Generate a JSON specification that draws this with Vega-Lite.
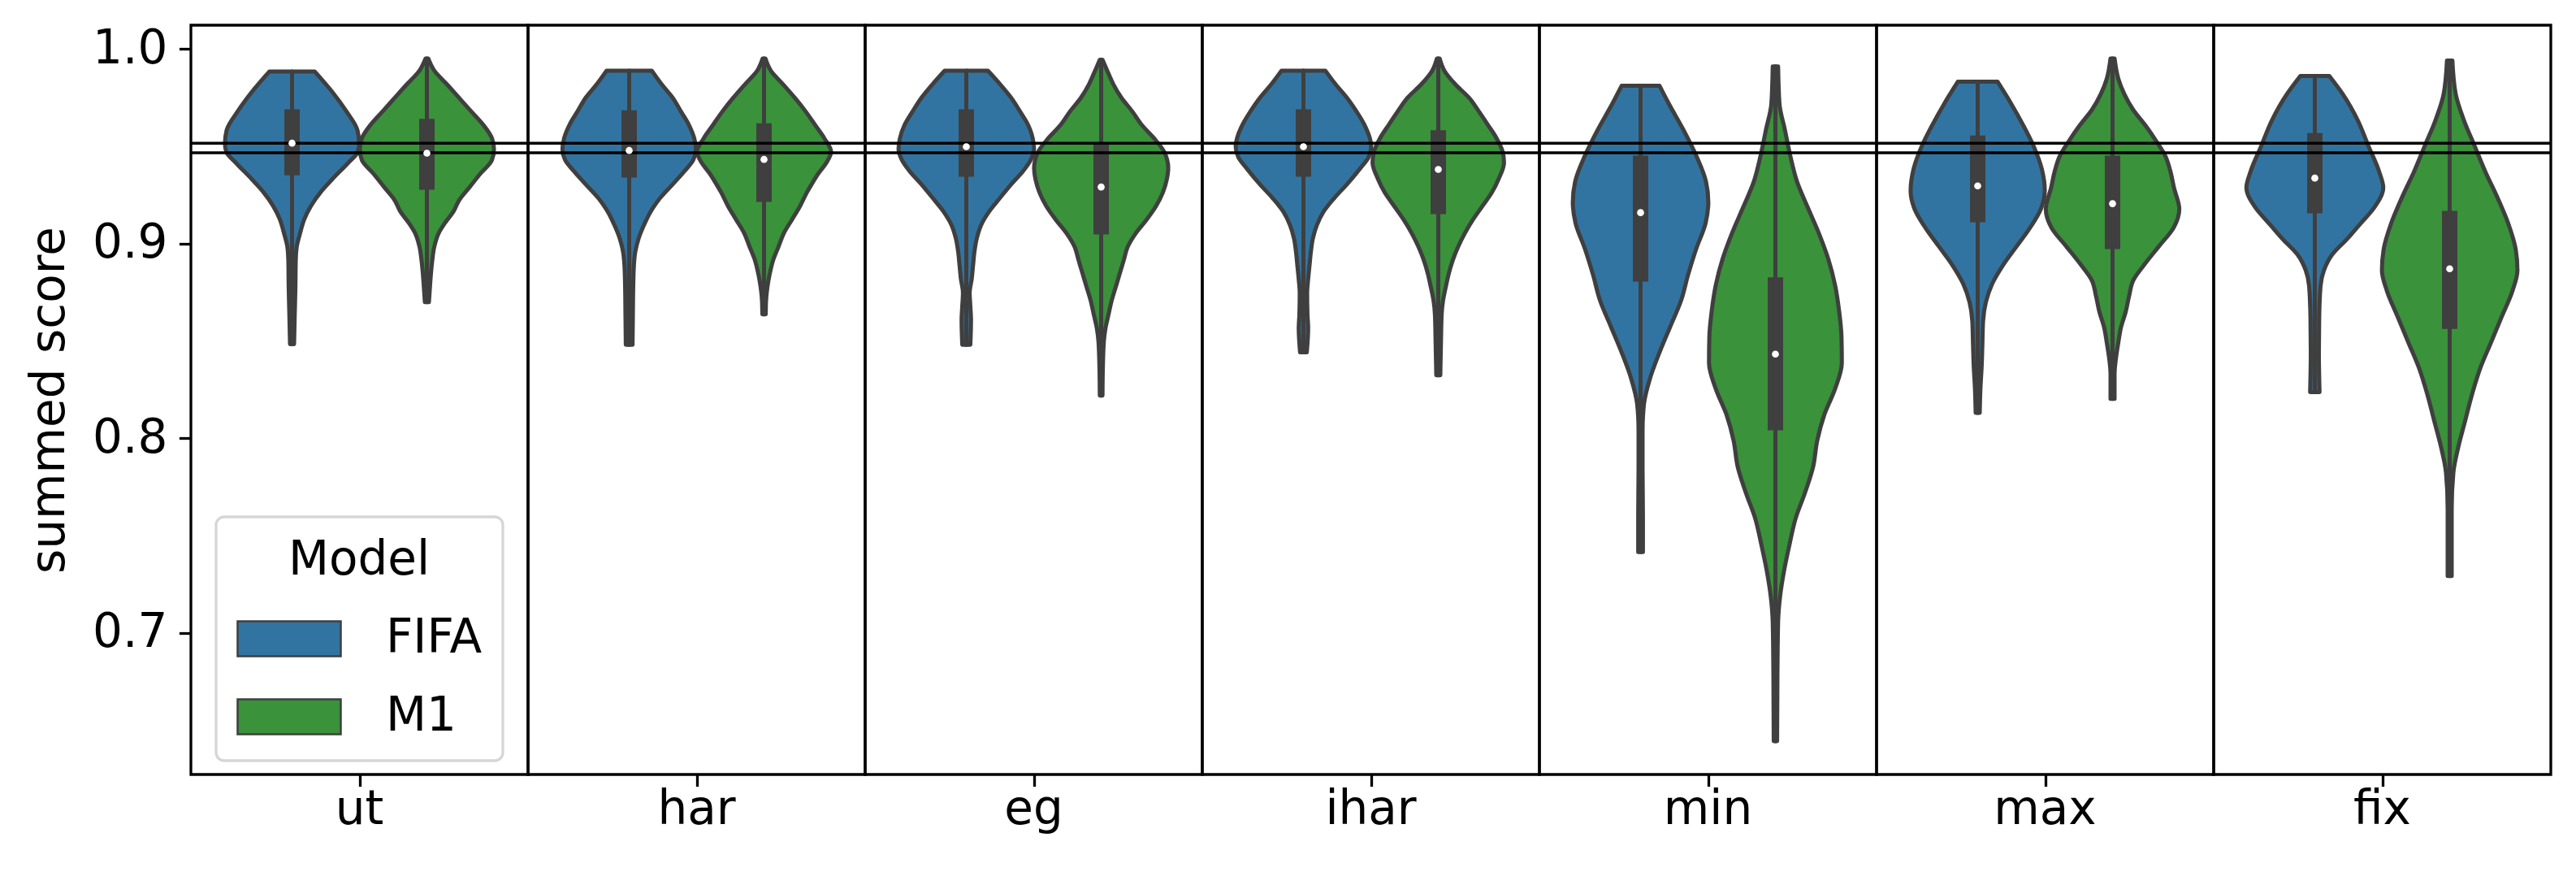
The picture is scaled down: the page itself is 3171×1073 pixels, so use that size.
{
  "$schema": "https://vega.github.io/schema/vega-lite/v6.json",
  "background": "white",
  "padding": {"left": 32, "top": 29, "right": 20, "bottom": 10},
  "bounds": "flush",
  "data": {"values": [
    {"metric":"ut","model":"FIFA","score":0.98845,"density":0.067},
    {"metric":"ut","model":"FIFA","score":0.97774,"density":0.120},
    {"metric":"ut","model":"FIFA","score":0.96800,"density":0.161},
    {"metric":"ut","model":"FIFA","score":0.95826,"density":0.194},
    {"metric":"ut","model":"FIFA","score":0.95131,"density":0.199},
    {"metric":"ut","model":"FIFA","score":0.94713,"density":0.195},
    {"metric":"ut","model":"FIFA","score":0.94157,"density":0.167},
    {"metric":"ut","model":"FIFA","score":0.93322,"density":0.120},
    {"metric":"ut","model":"FIFA","score":0.92627,"density":0.084},
    {"metric":"ut","model":"FIFA","score":0.91931,"density":0.056},
    {"metric":"ut","model":"FIFA","score":0.91235,"density":0.036},
    {"metric":"ut","model":"FIFA","score":0.90540,"density":0.024},
    {"metric":"ut","model":"FIFA","score":0.89844,"density":0.014},
    {"metric":"ut","model":"FIFA","score":0.89149,"density":0.011},
    {"metric":"ut","model":"FIFA","score":0.87757,"density":0.010},
    {"metric":"ut","model":"FIFA","score":0.86366,"density":0.008},
    {"metric":"ut","model":"FIFA","score":0.84836,"density":0.006},
    {"metric":"ut","model":"M1","score":0.99513,"density":0.004},
    {"metric":"ut","model":"M1","score":0.98887,"density":0.022},
    {"metric":"ut","model":"M1","score":0.98192,"density":0.059},
    {"metric":"ut","model":"M1","score":0.97496,"density":0.095},
    {"metric":"ut","model":"M1","score":0.96800,"density":0.131},
    {"metric":"ut","model":"M1","score":0.96105,"density":0.167},
    {"metric":"ut","model":"M1","score":0.95409,"density":0.193},
    {"metric":"ut","model":"M1","score":0.94853,"density":0.199},
    {"metric":"ut","model":"M1","score":0.94296,"density":0.193},
    {"metric":"ut","model":"M1","score":0.93600,"density":0.159},
    {"metric":"ut","model":"M1","score":0.92905,"density":0.127},
    {"metric":"ut","model":"M1","score":0.92209,"density":0.095},
    {"metric":"ut","model":"M1","score":0.91653,"density":0.079},
    {"metric":"ut","model":"M1","score":0.91096,"density":0.055},
    {"metric":"ut","model":"M1","score":0.90540,"density":0.035},
    {"metric":"ut","model":"M1","score":0.89844,"density":0.022},
    {"metric":"ut","model":"M1","score":0.89149,"density":0.016},
    {"metric":"ut","model":"M1","score":0.88453,"density":0.012},
    {"metric":"ut","model":"M1","score":0.87757,"density":0.009},
    {"metric":"ut","model":"M1","score":0.86992,"density":0.006},
    {"metric":"har","model":"FIFA","score":0.98887,"density":0.067},
    {"metric":"har","model":"FIFA","score":0.98192,"density":0.096},
    {"metric":"har","model":"FIFA","score":0.97496,"density":0.129},
    {"metric":"har","model":"FIFA","score":0.96800,"density":0.153},
    {"metric":"har","model":"FIFA","score":0.96105,"density":0.177},
    {"metric":"har","model":"FIFA","score":0.95409,"density":0.193},
    {"metric":"har","model":"FIFA","score":0.94853,"density":0.198},
    {"metric":"har","model":"FIFA","score":0.94296,"density":0.190},
    {"metric":"har","model":"FIFA","score":0.93740,"density":0.165},
    {"metric":"har","model":"FIFA","score":0.93044,"density":0.129},
    {"metric":"har","model":"FIFA","score":0.92348,"density":0.092},
    {"metric":"har","model":"FIFA","score":0.91653,"density":0.064},
    {"metric":"har","model":"FIFA","score":0.90957,"density":0.044},
    {"metric":"har","model":"FIFA","score":0.90262,"density":0.028},
    {"metric":"har","model":"FIFA","score":0.89566,"density":0.018},
    {"metric":"har","model":"FIFA","score":0.88870,"density":0.014},
    {"metric":"har","model":"FIFA","score":0.87757,"density":0.012},
    {"metric":"har","model":"FIFA","score":0.86366,"density":0.011},
    {"metric":"har","model":"FIFA","score":0.84808,"density":0.010},
    {"metric":"har","model":"M1","score":0.99513,"density":0.004},
    {"metric":"har","model":"M1","score":0.98887,"density":0.020},
    {"metric":"har","model":"M1","score":0.98192,"density":0.056},
    {"metric":"har","model":"M1","score":0.97496,"density":0.091},
    {"metric":"har","model":"M1","score":0.96800,"density":0.123},
    {"metric":"har","model":"M1","score":0.96105,"density":0.151},
    {"metric":"har","model":"M1","score":0.95409,"density":0.179},
    {"metric":"har","model":"M1","score":0.94713,"density":0.199},
    {"metric":"har","model":"M1","score":0.94157,"density":0.185},
    {"metric":"har","model":"M1","score":0.93600,"density":0.161},
    {"metric":"har","model":"M1","score":0.93044,"density":0.141},
    {"metric":"har","model":"M1","score":0.92627,"density":0.127},
    {"metric":"har","model":"M1","score":0.91931,"density":0.107},
    {"metric":"har","model":"M1","score":0.91235,"density":0.083},
    {"metric":"har","model":"M1","score":0.90540,"density":0.059},
    {"metric":"har","model":"M1","score":0.89844,"density":0.043},
    {"metric":"har","model":"M1","score":0.89149,"density":0.027},
    {"metric":"har","model":"M1","score":0.88453,"density":0.017},
    {"metric":"har","model":"M1","score":0.87757,"density":0.010},
    {"metric":"har","model":"M1","score":0.87062,"density":0.006},
    {"metric":"har","model":"M1","score":0.86366,"density":0.005},
    {"metric":"eg","model":"FIFA","score":0.98887,"density":0.064},
    {"metric":"eg","model":"FIFA","score":0.98192,"density":0.100},
    {"metric":"eg","model":"FIFA","score":0.97496,"density":0.133},
    {"metric":"eg","model":"FIFA","score":0.96800,"density":0.159},
    {"metric":"eg","model":"FIFA","score":0.96105,"density":0.183},
    {"metric":"eg","model":"FIFA","score":0.95409,"density":0.197},
    {"metric":"eg","model":"FIFA","score":0.94853,"density":0.201},
    {"metric":"eg","model":"FIFA","score":0.94296,"density":0.191},
    {"metric":"eg","model":"FIFA","score":0.93740,"density":0.169},
    {"metric":"eg","model":"FIFA","score":0.93044,"density":0.133},
    {"metric":"eg","model":"FIFA","score":0.92348,"density":0.100},
    {"metric":"eg","model":"FIFA","score":0.91653,"density":0.068},
    {"metric":"eg","model":"FIFA","score":0.90957,"density":0.044},
    {"metric":"eg","model":"FIFA","score":0.90262,"density":0.031},
    {"metric":"eg","model":"FIFA","score":0.89566,"density":0.024},
    {"metric":"eg","model":"FIFA","score":0.88870,"density":0.020},
    {"metric":"eg","model":"FIFA","score":0.88175,"density":0.016},
    {"metric":"eg","model":"FIFA","score":0.87479,"density":0.010},
    {"metric":"eg","model":"FIFA","score":0.86783,"density":0.012},
    {"metric":"eg","model":"FIFA","score":0.86088,"density":0.014},
    {"metric":"eg","model":"FIFA","score":0.84808,"density":0.012},
    {"metric":"eg","model":"M1","score":0.99444,"density":0.004},
    {"metric":"eg","model":"M1","score":0.98887,"density":0.018},
    {"metric":"eg","model":"M1","score":0.98192,"density":0.036},
    {"metric":"eg","model":"M1","score":0.97496,"density":0.060},
    {"metric":"eg","model":"M1","score":0.96800,"density":0.092},
    {"metric":"eg","model":"M1","score":0.96105,"density":0.120},
    {"metric":"eg","model":"M1","score":0.95409,"density":0.157},
    {"metric":"eg","model":"M1","score":0.94713,"density":0.187},
    {"metric":"eg","model":"M1","score":0.93879,"density":0.199},
    {"metric":"eg","model":"M1","score":0.93322,"density":0.195},
    {"metric":"eg","model":"M1","score":0.92627,"density":0.183},
    {"metric":"eg","model":"M1","score":0.91931,"density":0.163},
    {"metric":"eg","model":"M1","score":0.91235,"density":0.135},
    {"metric":"eg","model":"M1","score":0.90540,"density":0.103},
    {"metric":"eg","model":"M1","score":0.89844,"density":0.079},
    {"metric":"eg","model":"M1","score":0.89149,"density":0.067},
    {"metric":"eg","model":"M1","score":0.88453,"density":0.055},
    {"metric":"eg","model":"M1","score":0.87757,"density":0.043},
    {"metric":"eg","model":"M1","score":0.87062,"density":0.031},
    {"metric":"eg","model":"M1","score":0.86366,"density":0.022},
    {"metric":"eg","model":"M1","score":0.85670,"density":0.013},
    {"metric":"eg","model":"M1","score":0.84975,"density":0.008},
    {"metric":"eg","model":"M1","score":0.83584,"density":0.005},
    {"metric":"eg","model":"M1","score":0.82192,"density":0.004},
    {"metric":"ihar","model":"FIFA","score":0.98887,"density":0.065},
    {"metric":"ihar","model":"FIFA","score":0.98192,"density":0.095},
    {"metric":"ihar","model":"FIFA","score":0.97496,"density":0.129},
    {"metric":"ihar","model":"FIFA","score":0.96800,"density":0.157},
    {"metric":"ihar","model":"FIFA","score":0.96105,"density":0.181},
    {"metric":"ihar","model":"FIFA","score":0.95409,"density":0.197},
    {"metric":"ihar","model":"FIFA","score":0.94992,"density":0.201},
    {"metric":"ihar","model":"FIFA","score":0.94435,"density":0.193},
    {"metric":"ihar","model":"FIFA","score":0.93879,"density":0.169},
    {"metric":"ihar","model":"FIFA","score":0.93044,"density":0.129},
    {"metric":"ihar","model":"FIFA","score":0.92348,"density":0.092},
    {"metric":"ihar","model":"FIFA","score":0.91653,"density":0.060},
    {"metric":"ihar","model":"FIFA","score":0.90957,"density":0.040},
    {"metric":"ihar","model":"FIFA","score":0.90262,"density":0.028},
    {"metric":"ihar","model":"FIFA","score":0.89566,"density":0.022},
    {"metric":"ihar","model":"FIFA","score":0.88870,"density":0.018},
    {"metric":"ihar","model":"FIFA","score":0.88175,"density":0.014},
    {"metric":"ihar","model":"FIFA","score":0.87479,"density":0.011},
    {"metric":"ihar","model":"FIFA","score":0.86366,"density":0.012},
    {"metric":"ihar","model":"FIFA","score":0.85670,"density":0.014},
    {"metric":"ihar","model":"FIFA","score":0.84419,"density":0.010},
    {"metric":"ihar","model":"M1","score":0.99513,"density":0.004},
    {"metric":"ihar","model":"M1","score":0.98887,"density":0.018},
    {"metric":"ihar","model":"M1","score":0.98192,"density":0.050},
    {"metric":"ihar","model":"M1","score":0.97496,"density":0.091},
    {"metric":"ihar","model":"M1","score":0.96800,"density":0.120},
    {"metric":"ihar","model":"M1","score":0.96105,"density":0.147},
    {"metric":"ihar","model":"M1","score":0.95409,"density":0.173},
    {"metric":"ihar","model":"M1","score":0.94713,"density":0.191},
    {"metric":"ihar","model":"M1","score":0.94157,"density":0.195},
    {"metric":"ihar","model":"M1","score":0.93322,"density":0.179},
    {"metric":"ihar","model":"M1","score":0.92627,"density":0.159},
    {"metric":"ihar","model":"M1","score":0.91931,"density":0.131},
    {"metric":"ihar","model":"M1","score":0.91235,"density":0.103},
    {"metric":"ihar","model":"M1","score":0.90540,"density":0.079},
    {"metric":"ihar","model":"M1","score":0.89844,"density":0.059},
    {"metric":"ihar","model":"M1","score":0.89149,"density":0.043},
    {"metric":"ihar","model":"M1","score":0.88453,"density":0.031},
    {"metric":"ihar","model":"M1","score":0.87757,"density":0.022},
    {"metric":"ihar","model":"M1","score":0.87062,"density":0.014},
    {"metric":"ihar","model":"M1","score":0.86366,"density":0.010},
    {"metric":"ihar","model":"M1","score":0.84975,"density":0.008},
    {"metric":"ihar","model":"M1","score":0.83236,"density":0.006},
    {"metric":"min","model":"FIFA","score":0.98113,"density":0.056},
    {"metric":"min","model":"FIFA","score":0.97179,"density":0.084},
    {"metric":"min","model":"FIFA","score":0.95851,"density":0.127},
    {"metric":"min","model":"FIFA","score":0.94520,"density":0.165},
    {"metric":"min","model":"FIFA","score":0.93189,"density":0.194},
    {"metric":"min","model":"FIFA","score":0.92124,"density":0.201},
    {"metric":"min","model":"FIFA","score":0.91060,"density":0.193},
    {"metric":"min","model":"FIFA","score":0.89729,"density":0.165},
    {"metric":"min","model":"FIFA","score":0.88397,"density":0.141},
    {"metric":"min","model":"FIFA","score":0.87066,"density":0.120},
    {"metric":"min","model":"FIFA","score":0.85735,"density":0.088},
    {"metric":"min","model":"FIFA","score":0.84403,"density":0.056},
    {"metric":"min","model":"FIFA","score":0.83072,"density":0.028},
    {"metric":"min","model":"FIFA","score":0.81745,"density":0.010},
    {"metric":"min","model":"FIFA","score":0.80413,"density":0.006},
    {"metric":"min","model":"FIFA","score":0.78548,"density":0.006},
    {"metric":"min","model":"FIFA","score":0.75885,"density":0.007},
    {"metric":"min","model":"FIFA","score":0.74157,"density":0.007},
    {"metric":"min","model":"M1","score":0.99098,"density":0.008},
    {"metric":"min","model":"M1","score":0.97179,"density":0.012},
    {"metric":"min","model":"M1","score":0.95851,"density":0.028},
    {"metric":"min","model":"M1","score":0.94520,"density":0.044},
    {"metric":"min","model":"M1","score":0.93189,"density":0.064},
    {"metric":"min","model":"M1","score":0.91857,"density":0.096},
    {"metric":"min","model":"M1","score":0.90526,"density":0.129},
    {"metric":"min","model":"M1","score":0.89194,"density":0.157},
    {"metric":"min","model":"M1","score":0.87863,"density":0.177},
    {"metric":"min","model":"M1","score":0.86532,"density":0.189},
    {"metric":"min","model":"M1","score":0.85205,"density":0.196},
    {"metric":"min","model":"M1","score":0.83873,"density":0.197},
    {"metric":"min","model":"M1","score":0.82542,"density":0.177},
    {"metric":"min","model":"M1","score":0.81210,"density":0.145},
    {"metric":"min","model":"M1","score":0.79879,"density":0.124},
    {"metric":"min","model":"M1","score":0.78548,"density":0.112},
    {"metric":"min","model":"M1","score":0.77216,"density":0.088},
    {"metric":"min","model":"M1","score":0.75885,"density":0.060},
    {"metric":"min","model":"M1","score":0.74558,"density":0.042},
    {"metric":"min","model":"M1","score":0.73226,"density":0.026},
    {"metric":"min","model":"M1","score":0.71895,"density":0.014},
    {"metric":"min","model":"M1","score":0.70564,"density":0.008},
    {"metric":"min","model":"M1","score":0.67901,"density":0.006},
    {"metric":"min","model":"M1","score":0.64441,"density":0.005},
    {"metric":"max","model":"FIFA","score":0.98314,"density":0.059},
    {"metric":"max","model":"FIFA","score":0.97195,"density":0.099},
    {"metric":"max","model":"FIFA","score":0.96081,"density":0.135},
    {"metric":"max","model":"FIFA","score":0.94963,"density":0.167},
    {"metric":"max","model":"FIFA","score":0.93844,"density":0.190},
    {"metric":"max","model":"FIFA","score":0.92725,"density":0.199},
    {"metric":"max","model":"FIFA","score":0.91765,"density":0.187},
    {"metric":"max","model":"FIFA","score":0.90810,"density":0.155},
    {"metric":"max","model":"FIFA","score":0.89850,"density":0.115},
    {"metric":"max","model":"FIFA","score":0.88890,"density":0.075},
    {"metric":"max","model":"FIFA","score":0.87934,"density":0.043},
    {"metric":"max","model":"FIFA","score":0.86974,"density":0.024},
    {"metric":"max","model":"FIFA","score":0.86018,"density":0.016},
    {"metric":"max","model":"FIFA","score":0.84900,"density":0.014},
    {"metric":"max","model":"FIFA","score":0.83781,"density":0.012},
    {"metric":"max","model":"FIFA","score":0.82504,"density":0.008},
    {"metric":"max","model":"FIFA","score":0.81306,"density":0.006},
    {"metric":"max","model":"M1","score":0.99512,"density":0.006},
    {"metric":"max","model":"M1","score":0.98476,"density":0.017},
    {"metric":"max","model":"M1","score":0.97675,"density":0.035},
    {"metric":"max","model":"M1","score":0.96878,"density":0.061},
    {"metric":"max","model":"M1","score":0.96081,"density":0.097},
    {"metric":"max","model":"M1","score":0.95280,"density":0.129},
    {"metric":"max","model":"M1","score":0.94482,"density":0.157},
    {"metric":"max","model":"M1","score":0.93685,"density":0.172},
    {"metric":"max","model":"M1","score":0.92884,"density":0.182},
    {"metric":"max","model":"M1","score":0.91765,"density":0.198},
    {"metric":"max","model":"M1","score":0.90810,"density":0.181},
    {"metric":"max","model":"M1","score":0.89850,"density":0.137},
    {"metric":"max","model":"M1","score":0.88890,"density":0.093},
    {"metric":"max","model":"M1","score":0.88093,"density":0.061},
    {"metric":"max","model":"M1","score":0.87296,"density":0.049},
    {"metric":"max","model":"M1","score":0.86494,"density":0.039},
    {"metric":"max","model":"M1","score":0.85697,"density":0.025},
    {"metric":"max","model":"M1","score":0.84900,"density":0.017},
    {"metric":"max","model":"M1","score":0.84098,"density":0.010},
    {"metric":"max","model":"M1","score":0.83301,"density":0.006},
    {"metric":"max","model":"M1","score":0.82024,"density":0.006},
    {"metric":"fix","model":"FIFA","score":0.98610,"density":0.043},
    {"metric":"fix","model":"FIFA","score":0.97676,"density":0.083},
    {"metric":"fix","model":"FIFA","score":0.96344,"density":0.127},
    {"metric":"fix","model":"FIFA","score":0.95017,"density":0.159},
    {"metric":"fix","model":"FIFA","score":0.93685,"density":0.191},
    {"metric":"fix","model":"FIFA","score":0.92884,"density":0.203},
    {"metric":"fix","model":"FIFA","score":0.91820,"density":0.175},
    {"metric":"fix","model":"FIFA","score":0.91022,"density":0.135},
    {"metric":"fix","model":"FIFA","score":0.90225,"density":0.095},
    {"metric":"fix","model":"FIFA","score":0.89424,"density":0.051},
    {"metric":"fix","model":"FIFA","score":0.88627,"density":0.027},
    {"metric":"fix","model":"FIFA","score":0.87830,"density":0.017},
    {"metric":"fix","model":"FIFA","score":0.86231,"density":0.013},
    {"metric":"fix","model":"FIFA","score":0.84370,"density":0.012},
    {"metric":"fix","model":"FIFA","score":0.82371,"density":0.014},
    {"metric":"fix","model":"M1","score":0.99407,"density":0.008},
    {"metric":"fix","model":"M1","score":0.97676,"density":0.018},
    {"metric":"fix","model":"M1","score":0.96344,"density":0.042},
    {"metric":"fix","model":"M1","score":0.95017,"density":0.074},
    {"metric":"fix","model":"M1","score":0.93685,"density":0.106},
    {"metric":"fix","model":"M1","score":0.92354,"density":0.142},
    {"metric":"fix","model":"M1","score":0.91022,"density":0.174},
    {"metric":"fix","model":"M1","score":0.89691,"density":0.196},
    {"metric":"fix","model":"M1","score":0.88627,"density":0.201},
    {"metric":"fix","model":"M1","score":0.87563,"density":0.186},
    {"metric":"fix","model":"M1","score":0.86231,"density":0.154},
    {"metric":"fix","model":"M1","score":0.84900,"density":0.122},
    {"metric":"fix","model":"M1","score":0.83569,"density":0.090},
    {"metric":"fix","model":"M1","score":0.82237,"density":0.066},
    {"metric":"fix","model":"M1","score":0.80910,"density":0.046},
    {"metric":"fix","model":"M1","score":0.79578,"density":0.026},
    {"metric":"fix","model":"M1","score":0.78247,"density":0.011},
    {"metric":"fix","model":"M1","score":0.76381,"density":0.006},
    {"metric":"fix","model":"M1","score":0.72922,"density":0.006},
    {"metric":"ut","model":"FIFA","q1":0.93503,"median":0.95159,"q3":0.96898,"whisker_low":0.90053,"whisker_high":0.98845},
    {"metric":"ut","model":"M1","q1":0.92766,"median":0.94644,"q3":0.96411,"whisker_low":0.88870,"whisker_high":0.99513},
    {"metric":"har","model":"FIFA","q1":0.93392,"median":0.94783,"q3":0.96842,"whisker_low":0.90637,"whisker_high":0.98887},
    {"metric":"har","model":"M1","q1":0.92140,"median":0.94324,"q3":0.96174,"whisker_low":0.87479,"whisker_high":0.99513},
    {"metric":"eg","model":"FIFA","q1":0.93433,"median":0.94978,"q3":0.96898,"whisker_low":0.89802,"whisker_high":0.98887},
    {"metric":"eg","model":"M1","q1":0.90470,"median":0.92905,"q3":0.95103,"whisker_low":0.84975,"whisker_high":0.99444},
    {"metric":"ihar","model":"FIFA","q1":0.93433,"median":0.94978,"q3":0.96898,"whisker_low":0.89802,"whisker_high":0.98887},
    {"metric":"ihar","model":"M1","q1":0.91514,"median":0.93809,"q3":0.95826,"whisker_low":0.86714,"whisker_high":0.99513},
    {"metric":"min","model":"FIFA","q1":0.88050,"median":0.91590,"q3":0.94520,"whisker_low":0.83606,"whisker_high":0.98113},
    {"metric":"min","model":"M1","q1":0.80413,"median":0.84324,"q3":0.88264,"whisker_low":0.70827,"whisker_high":0.99098},
    {"metric":"max","model":"FIFA","q1":0.91098,"median":0.92963,"q3":0.95551,"whisker_low":0.87534,"whisker_high":0.98314},
    {"metric":"max","model":"M1","q1":0.89720,"median":0.92053,"q3":0.94516,"whisker_low":0.84098,"whisker_high":0.99512},
    {"metric":"fix","model":"FIFA","q1":0.91557,"median":0.93364,"q3":0.95680,"whisker_low":0.88815,"whisker_high":0.98610},
    {"metric":"fix","model":"M1","q1":0.85618,"median":0.88706,"q3":0.91686,"whisker_low":0.78247,"whisker_high":0.99407}
  ]},
  "facet": {
    "column": {
      "field": "metric", "type": "nominal",
      "sort": ["ut","har","eg","ihar","min","max","fix"],
      "title": null,
      "header": {"labelOrient": "bottom", "labelFont": "DejaVu Sans", "labelFontSize": 58, "labelColor": "black", "labelBaseline": "alphabetic", "labelPadding": 61}
    }
  },
  "spacing": 0,
  "resolve": {"scale": {"x": "independent"}},
  "spec": {
    "width": 415,
    "height": 922,
    "layer": [
      {
        "transform": [{"filter": "datum.model == 'FIFA' && isValid(datum.density)"}],
        "mark": {"type": "area", "orient": "horizontal", "interpolate": "monotone", "stroke": "#3f3f3f", "strokeWidth": 5, "strokeJoin": "round", "fillOpacity": 1},
        "encoding": {
          "y": {"field": "score", "type": "quantitative",
                "scale": {"domain": [0.6273, 1.0122], "nice": false, "zero": false},
                "axis": {"values": [0.7, 0.8, 0.9, 1.0], "format": ".1f", "title": "summed score",
                         "titleFont": "DejaVu Sans", "titleFontSize": 58, "titleFontWeight": "normal", "titleColor": "black",
                         "titlePadding": 35, "titleBaseline": "alphabetic",
                         "labelFont": "DejaVu Sans", "labelFontSize": 58, "labelColor": "black", "labelPadding": 14.6,
                         "tickSize": 14.6, "tickWidth": 3.3, "tickColor": "black", "domain": false, "grid": false, "labelOverlap": false}},
          "x": {"field": "density", "type": "quantitative", "stack": null,
                "scale": {"domain": [-0.3, 0.7], "nice": false, "zero": false},
                "axis": {"values": [0.2], "labels": false, "domain": false, "grid": false, "title": null, "tickSize": 14.6, "tickWidth": 3.3, "tickColor": "black"}},
          "color": {"field": "model", "type": "nominal",
                    "scale": {"domain": ["FIFA", "M1"], "range": ["#3274a1", "#3a923a"]},
                    "legend": {"title": "Model", "orient": "none", "legendX": 31, "legendY": 605}}
        }
      },
      {
        "transform": [{"filter": "datum.model == 'FIFA' && isValid(datum.density)"}],
        "mark": {"type": "area", "orient": "horizontal", "interpolate": "monotone", "stroke": "#3f3f3f", "strokeWidth": 5, "strokeJoin": "round", "fillOpacity": 1},
        "encoding": {
          "y": {"field": "score", "type": "quantitative", "scale": {"domain": [0.6273, 1.0122], "nice": false, "zero": false}},
          "x": {"field": "density", "type": "quantitative", "stack": null,
                "scale": {"domain": [-0.7, 0.3], "reverse": true, "nice": false, "zero": false}, "axis": null},
          "color": {"field": "model", "type": "nominal", "scale": {"domain": ["FIFA", "M1"], "range": ["#3274a1", "#3a923a"]}}
        }
      },
      {
        "transform": [{"filter": "datum.model == 'M1' && isValid(datum.density)"}],
        "mark": {"type": "area", "orient": "horizontal", "interpolate": "monotone", "stroke": "#3f3f3f", "strokeWidth": 5, "strokeJoin": "round", "fillOpacity": 1},
        "encoding": {
          "y": {"field": "score", "type": "quantitative", "scale": {"domain": [0.6273, 1.0122], "nice": false, "zero": false}},
          "x": {"field": "density", "type": "quantitative", "stack": null,
                "scale": {"domain": [-0.7, 0.3], "nice": false, "zero": false}, "axis": null},
          "color": {"field": "model", "type": "nominal", "scale": {"domain": ["FIFA", "M1"], "range": ["#3274a1", "#3a923a"]}}
        }
      },
      {
        "transform": [{"filter": "datum.model == 'M1' && isValid(datum.density)"}],
        "mark": {"type": "area", "orient": "horizontal", "interpolate": "monotone", "stroke": "#3f3f3f", "strokeWidth": 5, "strokeJoin": "round", "fillOpacity": 1},
        "encoding": {
          "y": {"field": "score", "type": "quantitative", "scale": {"domain": [0.6273, 1.0122], "nice": false, "zero": false}},
          "x": {"field": "density", "type": "quantitative", "stack": null,
                "scale": {"domain": [-0.3, 0.7], "reverse": true, "nice": false, "zero": false}, "axis": null},
          "color": {"field": "model", "type": "nominal", "scale": {"domain": ["FIFA", "M1"], "range": ["#3274a1", "#3a923a"]}}
        }
      },
      {
        "transform": [{"filter": "isValid(datum.median)"}],
        "mark": {"type": "rule", "color": "#3f3f3f", "strokeWidth": 5},
        "encoding": {
          "x": {"field": "model", "type": "nominal", "scale": {"type": "point", "domain": ["FIFA", "M1"], "padding": 0.75}, "axis": null},
          "y": {"field": "whisker_low", "type": "quantitative", "scale": {"domain": [0.6273, 1.0122], "nice": false, "zero": false}},
          "y2": {"field": "whisker_high"}
        }
      },
      {
        "transform": [{"filter": "isValid(datum.median)"}],
        "mark": {"type": "rule", "color": "#3f3f3f", "strokeWidth": 19, "strokeCap": "butt"},
        "encoding": {
          "x": {"field": "model", "type": "nominal", "scale": {"type": "point", "domain": ["FIFA", "M1"], "padding": 0.75}, "axis": null},
          "y": {"field": "q1", "type": "quantitative", "scale": {"domain": [0.6273, 1.0122], "nice": false, "zero": false}},
          "y2": {"field": "q3"}
        }
      },
      {
        "transform": [{"filter": "isValid(datum.median) && datum.model == 'FIFA'"}],
        "mark": {"type": "rule", "color": "black", "strokeWidth": 3.5},
        "encoding": {"y": {"datum": 0.9516, "type": "quantitative", "scale": {"domain": [0.6273, 1.0122], "nice": false, "zero": false}}}
      },
      {
        "transform": [{"filter": "isValid(datum.median) && datum.model == 'FIFA'"}],
        "mark": {"type": "rule", "color": "black", "strokeWidth": 3.5},
        "encoding": {"y": {"datum": 0.9467, "type": "quantitative", "scale": {"domain": [0.6273, 1.0122], "nice": false, "zero": false}}}
      },
      {
        "transform": [{"filter": "isValid(datum.median)"}],
        "mark": {"type": "point", "filled": true, "color": "white", "size": 75, "opacity": 1, "shape": "circle"},
        "encoding": {
          "x": {"field": "model", "type": "nominal", "scale": {"type": "point", "domain": ["FIFA", "M1"], "padding": 0.75}, "axis": null},
          "y": {"field": "median", "type": "quantitative", "scale": {"domain": [0.6273, 1.0122], "nice": false, "zero": false}}
        }
      }
    ],
    "resolve": {"scale": {"x": "independent"}}
  },
  "config": {
    "font": "DejaVu Sans",
    "view": {"stroke": "black", "strokeWidth": 3.3},
    "axis": {"grid": false},
    "legend": {
      "titleFont": "DejaVu Sans", "titleFontSize": 58, "titleFontWeight": "normal", "titleColor": "black",
      "titleAlign": "center", "titleAnchor": "middle", "titlePadding": 2,
      "labelFont": "DejaVu Sans", "labelFontSize": 58, "labelColor": "black", "labelOffset": 54,
      "symbolType": "M-1,-0.339H1V0.339H-1Z", "symbolSize": 16129,
      "symbolStrokeColor": "#3f3f3f", "symbolStrokeWidth": 2.5, "symbolOpacity": 1, "symbolFillOpacity": 1,
      "rowPadding": 2, "padding": 25,
      "strokeColor": "#d6d6d6", "fillColor": "white", "cornerRadius": 10, "strokeWidth": 3.3
    }
  }
}
